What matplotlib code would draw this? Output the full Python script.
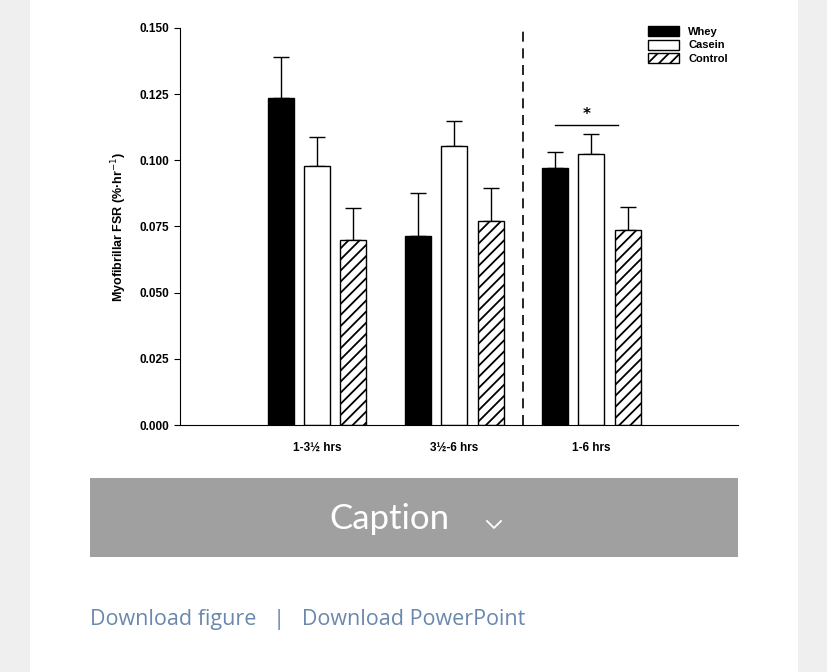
import numpy as np
import matplotlib.pyplot as plt
from matplotlib.patches import Rectangle
from matplotlib.lines import Line2D

groups = ['1-3½ hrs', '3½-6 hrs', '1-6 hrs']
series = ['Whey', 'Casein', 'Control']
means = {'Whey': [0.1235, 0.0715, 0.097],
         'Casein': [0.098, 0.1055, 0.1025],
         'Control': [0.070, 0.077, 0.0735]}
errs = {'Whey': [0.0155, 0.016, 0.006],
        'Casein': [0.011, 0.0095, 0.0075],
        'Control': [0.012, 0.0125, 0.009]}
yticks = [0.000, 0.025, 0.050, 0.075, 0.100, 0.125, 0.150]

W, H = 828, 672
fig = plt.figure(figsize=(W / 100, H / 100), dpi=100)
fig.patch.set_facecolor('#efefef')
fig.patches.append(Rectangle((30 / W, 0), 768 / W, 1, transform=fig.transFigure,
                             facecolor='white', edgecolor='none', zorder=-5))

ax = fig.add_axes([180 / W, (H - 425) / H, 558 / W, 397 / H])
ax.set_zorder(5)
plt.rcParams['hatch.linewidth'] = 1.3
styles = {'Whey': dict(color='black'),
          'Casein': dict(color='white'),
          'Control': dict(color='white', hatch='///')}
centers = np.array([0.0, 1.0, 2.0])
bw = 0.19
step = 0.265
for i, s in enumerate(series):
    x = centers + (i - 1) * step
    ax.bar(x, means[s], bw, edgecolor='black', linewidth=1, label=s, **styles[s], zorder=2)
    ax.errorbar(x, means[s], yerr=[np.zeros(3), errs[s]], fmt='none', ecolor='black',
                elinewidth=1, capsize=6, capthick=1, zorder=1)

ax.set_xlim(-1.0, 3.07)
ax.set_ylim(0, 0.150)
ax.set_yticks(yticks)
ax.set_yticklabels(['%.3f' % v for v in yticks])
ax.set_xticks(centers)
ax.set_xticklabels(groups)
ax.tick_params(axis='x', length=0, pad=12)
ax.tick_params(axis='y', direction='out', length=4)
for lab in ax.get_xticklabels() + ax.get_yticklabels():
    lab.set_fontsize(8.5)
    lab.set_fontweight('bold')
    lab.set_family('Liberation Sans')
for sp in ['top', 'right']:
    ax.spines[sp].set_visible(False)
ax.axvline(1.5, color='black', linestyle=(0, (6, 4)), linewidth=1.2)
ax.plot([1.735, 2.195], [0.1135, 0.1135], color='black', linewidth=1)
ax.text(1.965, 0.1145, '*', ha='center', va='bottom', fontsize=11, fontweight='bold')
ax.set_ylabel('Myofibrillar FSR (%·hr$^{-1}$)', fontsize=9, fontweight='bold',
              family='Liberation Sans', labelpad=8)
leg = ax.legend(loc='upper right', bbox_to_anchor=(1.0, 1.03), frameon=False,
                prop={'family': 'Liberation Sans', 'weight': 'bold', 'size': 8},
                handlelength=2.8, handleheight=1.0, labelspacing=0.25)

fig.patches.append(Rectangle((90 / W, (H - 557) / H), 648 / W, 79 / H, transform=fig.transFigure,
                             facecolor='#a0a0a0', edgecolor='none', zorder=1))
fig.text(389 / W, (H - 519) / H, 'Caption', color='white', fontsize=25,
         ha='center', va='center', family='Lato', zorder=3)
fig.lines.append(Line2D([487 / W, 494 / W, 501 / W], [(H - 521) / H, (H - 528) / H, (H - 521) / H],
                        transform=fig.transFigure, color='white', linewidth=1.3, zorder=3))
fig.text(90 / W, (H - 620) / H, 'Download figure   |   Download PowerPoint', color='#6a88ae',
         fontsize=15.5, ha='left', va='center', family='Open Sans')

fig.savefig('out.png', dpi=100, facecolor=fig.get_facecolor())
